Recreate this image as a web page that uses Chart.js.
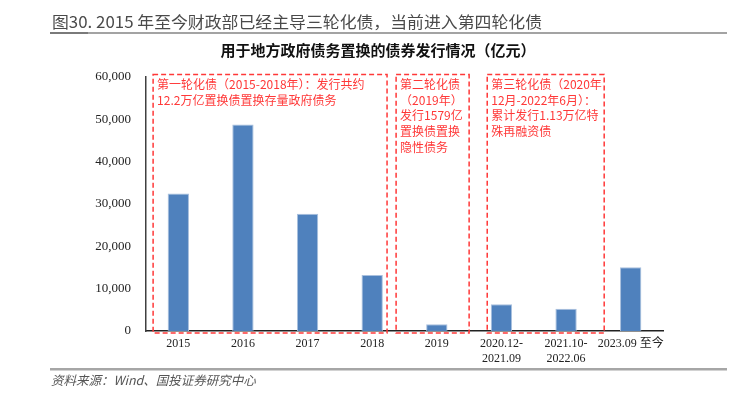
<!DOCTYPE html>
<html>
<head>
<meta charset="utf-8">
<script src="https://cdn.jsdelivr.net/npm/chart.js@4.4.0/dist/chart.umd.min.js"></script>
<style>
  html, body { margin: 0; padding: 0; background: #fff; }
  #wrap { width: 735px; height: 396px; position: relative; }
</style>
</head>
<body>
<div id="wrap"><canvas id="bondChart" width="735" height="396"></canvas></div>
<script>
// categories and values (亿元)
var categories = ['2015', '2016', '2017', '2018', '2019', ['2020.12-', '2021.09'], ['2021.10-', '2022.06'], '2023.09 至今'];
var issuance = [32500, 48800, 27700, 13200, 1579, 6300, 5250, 15050];
var yTicks = [0, 10000, 20000, 30000, 40000, 50000, 60000];

var figTitle = '图30. 2015 年至今财政部已经主导三轮化债，当前进入第四轮化债';
var chartTitle = '用于地方政府债务置换的债券发行情况（亿元）';
var sourceNote = '资料来源：Wind、国投证券研究中心';

// annotation boxes: x range in category index units, text lines
var roundBoxes = [
    { from: -0.39, to: 3.23, lines: ['第一轮化债（2015-2018年）：发行共约', '12.2万亿置换债置换存量政府债务'] },
    { from: 3.37, to: 4.5, lines: ['第二轮化债', '（2019年）', '发行1579亿', '置换债置换', '隐性债务'] },
    { from: 4.78, to: 6.59, lines: ['第三轮化债（2020年', '12月-2022年6月）：', '累计发行1.13万亿特', '殊再融资债'] }
];

var serif = "'Liberation Serif', 'Times New Roman', 'Noto Sans CJK SC', serif";
var cjk = "'Noto Sans CJK SC', 'Noto Sans', sans-serif";
var red = '#ff3838';

var decorations = {
    id: 'decorations',
    afterDraw: function (chart) {
        var ctx = chart.ctx;
        var x = chart.scales.x;
        var y = chart.scales.y;
        ctx.save();

        // header
        ctx.fillStyle = '#4a4a4a';
        ctx.font = '16px ' + cjk;
        ctx.textBaseline = 'middle';
        ctx.textAlign = 'left';
        var w = ctx.measureText(figTitle).width;
        ctx.save();
        ctx.translate(52, 22);
        ctx.scale(490 / w, 1);
        ctx.fillText(figTitle, 0, 0);
        ctx.restore();

        ctx.fillStyle = '#a3a3a3';
        ctx.fillRect(50, 32, 677, 2);
        ctx.fillStyle = '#7a7a7a';
        ctx.fillRect(50, 32, 38, 2);

        ctx.fillStyle = '#111';
        ctx.font = 'bold 15px ' + cjk;
        ctx.textAlign = 'center';
        ctx.fillText(chartTitle, 378, 50);

        // dashed round boxes
        var top = y.getPixelForValue(60600);
        var bottom = y.getPixelForValue(-500);
        roundBoxes.forEach(function (b) {
            var l = x.getPixelForValue(b.from);
            var r = x.getPixelForValue(b.to);
            ctx.strokeStyle = red;
            ctx.lineWidth = 1.5;
            ctx.setLineDash([5, 3]);
            ctx.strokeRect(l, top, r - l, bottom - top);
            ctx.setLineDash([]);
            ctx.fillStyle = red;
            ctx.font = '12px ' + cjk;
            ctx.textAlign = 'left';
            ctx.textBaseline = 'middle';
            b.lines.forEach(function (t, i) {
                ctx.fillText(t, l + 4, top + 10 + i * 15.7);
            });
        });

        // source
        ctx.fillStyle = '#a6a6a6';
        ctx.fillRect(50, 368, 677, 2.5);
        ctx.fillStyle = '#555';
        ctx.font = 'italic 12.5px ' + cjk;
        ctx.textAlign = 'left';
        ctx.fillText(sourceNote, 51, 380);

        ctx.restore();
    }
};

var ctx = document.getElementById('bondChart');
new Chart(ctx, {
    type: 'bar',
    data: {
        labels: categories,
        datasets: [{
            data: issuance,
            backgroundColor: '#4f81bd',
            borderColor: '#a9c0de',
            borderWidth: 1,
            barPercentage: 0.33,
            categoryPercentage: 1
        }]
    },
    options: {
        responsive: false,
        animation: false,
        devicePixelRatio: 1,
        layout: {
            padding: { left: 0, right: 72, top: 77, bottom: 25 }
        },
        plugins: {
            legend: { display: false },
            tooltip: { enabled: false }
        },
        scales: {
            x: {
                grid: { display: false, drawTicks: false },
                border: { display: true, color: '#222', width: 1.5 },
                ticks: {
                    autoSkip: false,
                    maxRotation: 0,
                    padding: 6,
                    color: '#222',
                    font: { size: 12, family: serif }
                },
                afterFit: function (scale) { scale.height = 40; }
            },
            y: {
                min: 0,
                max: 60000,
                afterBuildTicks: function (scale) {
                    scale.ticks = yTicks.map(function (v) { return { value: v }; });
                },
                grid: { display: false, drawTicks: false },
                border: { display: true, color: '#404040', width: 1.5 },
                ticks: {
                    padding: 15,
                    color: '#222',
                    font: { size: 13, family: serif },
                    callback: function (v) { return v.toLocaleString('en-US'); }
                },
                afterFit: function (scale) { scale.width = 146; }
            }
        }
    },
    plugins: [decorations]
});
</script>
</body>
</html>
